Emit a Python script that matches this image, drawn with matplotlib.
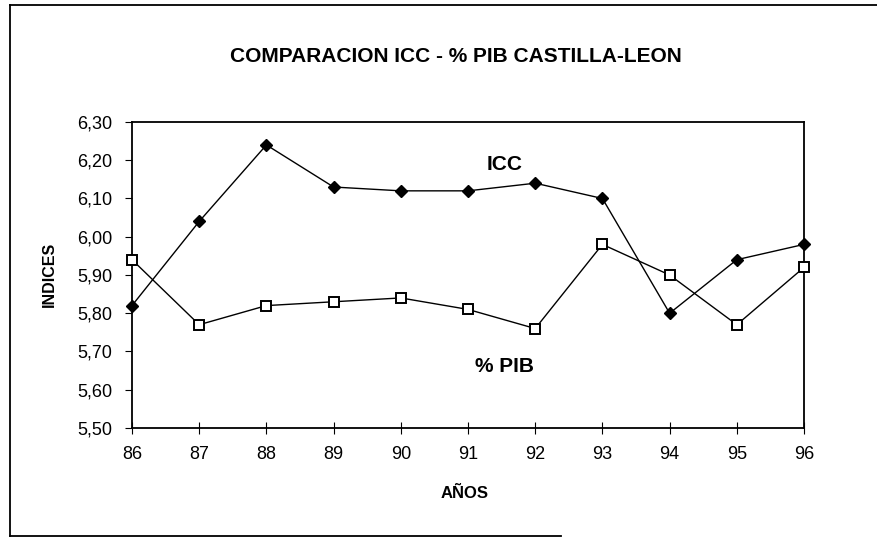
import matplotlib.pyplot as plt
from matplotlib.ticker import FuncFormatter
from matplotlib.lines import Line2D

plt.rcParams['font.family'] = ['Liberation Sans', 'DejaVu Sans']

years = [86, 87, 88, 89, 90, 91, 92, 93, 94, 95, 96]
icc = [5.82, 6.04, 6.24, 6.13, 6.12, 6.12, 6.14, 6.10, 5.80, 5.94, 5.98]
pib = [5.94, 5.77, 5.82, 5.83, 5.84, 5.81, 5.76, 5.98, 5.90, 5.77, 5.92]

fig = plt.figure(figsize=(8.77, 5.41), dpi=100)
ax = fig.add_axes([0.1505, 0.2089, 0.7663, 0.5656])

ax.plot(years, icc, color='black', lw=1, marker='D', ms=6.5, mfc='black', mec='black',
        clip_on=False, zorder=3)
ax.plot(years, pib, color='black', lw=1, marker='s', ms=7, mfc='white', mec='black',
        mew=1.4, clip_on=False, zorder=3)

ax.set_xlim(86, 96)
ax.set_ylim(5.50, 6.30)
ax.set_xticks(years)
ax.set_yticks([5.5 + 0.1 * i for i in range(9)])
ax.yaxis.set_major_formatter(FuncFormatter(lambda v, p: f'{v:.2f}'.replace('.', ',')))
ax.tick_params(axis='x', direction='inout', length=8, labelsize=13, pad=9)
ax.tick_params(axis='y', direction='out', length=5, labelsize=13, pad=9)
for s in ax.spines.values():
    s.set_linewidth(1.3)

ax.text(91.55, 6.19, 'ICC', fontsize=15, fontweight='bold', ha='center', va='center')
ax.text(91.55, 5.66, '% PIB', fontsize=15, fontweight='bold', ha='center', va='center')

fig.text(0.52, 0.895, 'COMPARACION ICC - % PIB CASTILLA-LEON', fontsize=15,
         fontweight='bold', ha='center', va='center')
fig.text(0.056, 0.492, 'INDICES', fontsize=11.5, fontweight='bold', rotation=90,
         ha='center', va='center')
fig.text(0.530, 0.088, 'AÑOS', fontsize=12, fontweight='bold', ha='center', va='center')

# frame of the scanned page
for xs, ys in [([0.011, 0.011], [0.01, 0.99]), ([0.011, 1.0], [0.99, 0.99]),
               ([0.011, 0.64], [0.01, 0.01])]:
    fig.add_artist(Line2D(xs, ys, transform=fig.transFigure, color='black', lw=1.3))

plt.savefig('out.png')
